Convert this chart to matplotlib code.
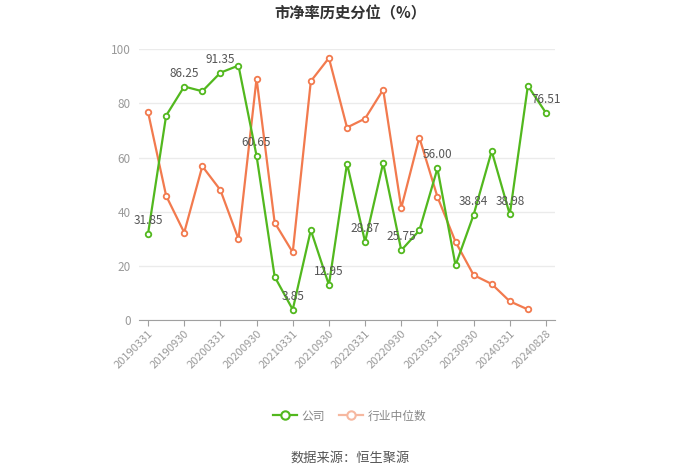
# -*- coding: utf-8 -*-
r"""
Recreates the "市净率历史分位" percentile line chart.
"""

#%% Imports
import matplotlib
matplotlib.use('Agg')
import matplotlib.pyplot as plt
from matplotlib.lines import Line2D

plt.rcParams['font.family'] = ['Noto Sans CJK SC', 'DejaVu Sans']

#%% Data
dates = ['20190331', '20190630', '20190930', '20191231', '20200331', '20200630', '20200930',
         '20201231', '20210331', '20210630', '20210930', '20211231', '20220331', '20220630',
         '20220930', '20221231', '20230331', '20230630', '20230930', '20231231', '20240331',
         '20240630', '20240828']
company = [31.85, 75.5, 86.25, 84.5, 91.35, 94.0, 60.65, 16.0, 3.85, 33.2, 12.95, 57.8,
           28.87, 58.0, 25.75, 33.1, 56.00, 20.2, 38.84, 62.4, 38.98, 86.5, 76.51]
industry = [76.8, 45.9, 32.3, 56.8, 48.0, 29.9, 89.2, 36.0, 25.0, 88.2, 96.8, 71.1,
            74.4, 85.1, 41.4, 67.4, 45.5, 28.9, 16.6, 13.3, 6.9, 3.9]

#%% Colors
COLOR = {'company': '#52b81e', 'industry': '#f27a4e', 'industry_legend': '#f6b8a0',
         'grid': '#ebebeb', 'axis': '#a0a0a0', 'tick': '#9a9a9a', 'label': '#555555'}

#%% Plot
fig = plt.figure(figsize=(7.0, 4.73), dpi=100)
ax = fig.add_axes([139/700, 1-320/473, 416/700, (320-49.3)/473])

x_comp = list(range(len(company)))
x_ind = list(range(len(industry)))
ax.plot(x_comp, company, color=COLOR['company'], linewidth=1.6, marker='o', markersize=4,
        markerfacecolor='white', markeredgecolor=COLOR['company'], markeredgewidth=1.3, zorder=4)
ax.plot(x_ind, industry, color=COLOR['industry'], linewidth=1.6, marker='o', markersize=4,
        markerfacecolor='white', markeredgecolor=COLOR['industry'], markeredgewidth=1.3, zorder=3)

# data labels on every other company point
for i in range(0, len(company), 2):
    ax.annotate('{:.2f}'.format(company[i]), xy=(i, company[i]), xytext=(0, 5),
                textcoords='offset points', ha='center', va='bottom', fontsize=8.5,
                color=COLOR['label'], zorder=5)

# axes styling
ax.set_xlim(-0.5, len(dates) - 0.5)
ax.set_ylim(0, 100)
ax.set_yticks(range(0, 101, 20))
ax.yaxis.grid(True, color=COLOR['grid'], linewidth=1)
ax.set_axisbelow(True)
for side in ['top', 'right', 'left']:
    ax.spines[side].set_visible(False)
ax.spines['bottom'].set_color(COLOR['axis'])
ax.tick_params(axis='y', length=0, labelsize=8.5, labelcolor=COLOR['tick'], pad=6)

tick_pos = list(range(0, len(dates), 2))
ax.set_xticks(tick_pos)
ax.set_xticklabels([dates[i] for i in tick_pos], rotation=45, ha='right',
                   rotation_mode='anchor', fontsize=8, color=COLOR['tick'])
ax.tick_params(axis='x', length=4, color=COLOR['axis'], pad=2)

# title
fig.text(0.5, 1-13/473, '市净率历史分位（%）', ha='center', va='center', fontsize=11,
         fontweight='bold', color='#333333')

# legend
handles = [Line2D([], [], color=COLOR['company'], linewidth=1.6, marker='o', markersize=6,
                  markerfacecolor='white', markeredgewidth=1.5, markeredgecolor=COLOR['company']),
           Line2D([], [], color=COLOR['industry_legend'], linewidth=1.6, marker='o', markersize=6,
                  markerfacecolor='white', markeredgewidth=1.5,
                  markeredgecolor=COLOR['industry_legend'])]
leg = fig.legend(handles, ['公司', '行业中位数'], loc='center', bbox_to_anchor=(0.5, 1-416/473),
                 ncol=2, frameon=False, fontsize=8.5, handlelength=2.0, columnspacing=1.2,
                 handletextpad=0.4)
for text in leg.get_texts():
    text.set_color('#888888')

# source
fig.text(0.5, 1-458/473, '数据来源：恒生聚源', ha='center', va='center', fontsize=9.5,
         color='#555555')

fig.savefig('out.png', dpi=100)
